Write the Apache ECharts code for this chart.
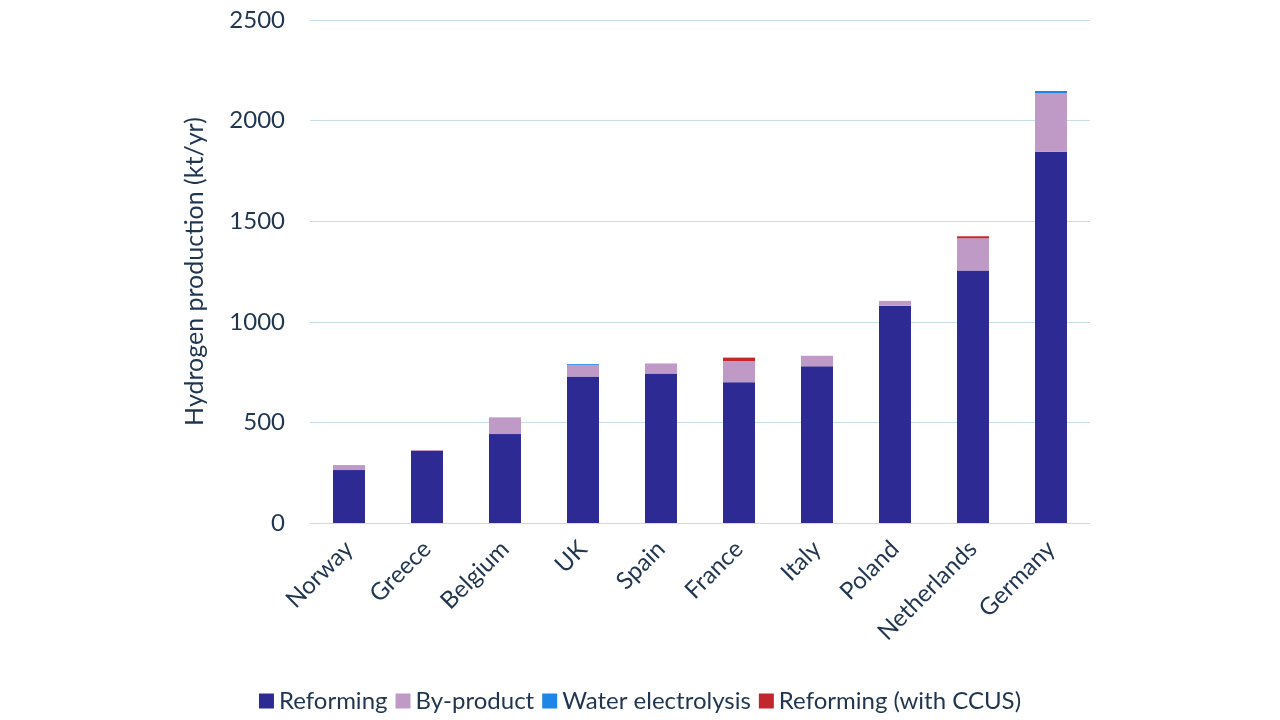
<!DOCTYPE html>
<html><head><meta charset="utf-8">
<script src="https://cdn.jsdelivr.net/npm/echarts@6/dist/echarts.min.js"></script>
<style>html,body{margin:0;background:#fff}#c{width:1280px;height:720px}</style>
</head><body><div id="c"></div>
<script>
const categories = ['Norway','Greece','Belgium','UK','Spain','France','Italy','Poland','Netherlands','Germany'];
const reforming = [263, 358, 442, 728, 743, 700, 779, 1080, 1255, 1845];
const byProduct = [25, 5, 83, 58, 50, 105, 52, 24, 160, 290];
const waterElectrolysis = [0, 0, 0, 4, 0, 0, 0, 0, 0, 12];
const reformingCCUS = [0, 0, 0, 0, 0, 17, 0, 0, 10, 0];
const yTicks = [0, 500, 1000, 1500, 2000, 2500];

const txt = '#1f3550';
const font = 'Lato';
function s(name, data, color) {
  return {name, type:'bar', stack:'a', data, itemStyle:{color}, barWidth:'41%'};
}
const chart = echarts.init(document.getElementById('c'));
chart.setOption({
  textStyle:{fontFamily:font, color:txt},
  grid:{left:310, right:190, top:20, bottom:197},
  legend:{bottom:2, left:'center', itemWidth:15, itemHeight:15, itemGap:8, icon:'rect',
    textStyle:{fontSize:24, color:txt, fontFamily:font}},
  xAxis:{type:'category', data:categories,
    axisLine:{lineStyle:{color:'#c7dde8'}}, axisTick:{show:false},
    axisLabel:{rotate:45, fontSize:24, color:txt, margin:22, interval:0}},
  yAxis:{type:'value', min:yTicks[0], max:yTicks[yTicks.length-1], interval:500,
    name:'Hydrogen production (kt/yr)', nameLocation:'middle', nameGap:103,
    nameTextStyle:{fontSize:25, color:txt},
    axisLabel:{fontSize:24, color:txt, margin:25, formatter:v=>String(v)},
    splitLine:{lineStyle:{color:'#c7dde8'}}},
  series:[
    s('Reforming', reforming, '#2e2a94'),
    s('By-product', byProduct, '#c09ac7'),
    s('Water electrolysis', waterElectrolysis, '#1f86e8'),
    s('Reforming (with CCUS)', reformingCCUS, '#c1272d')
  ]
});
</script></body></html>
